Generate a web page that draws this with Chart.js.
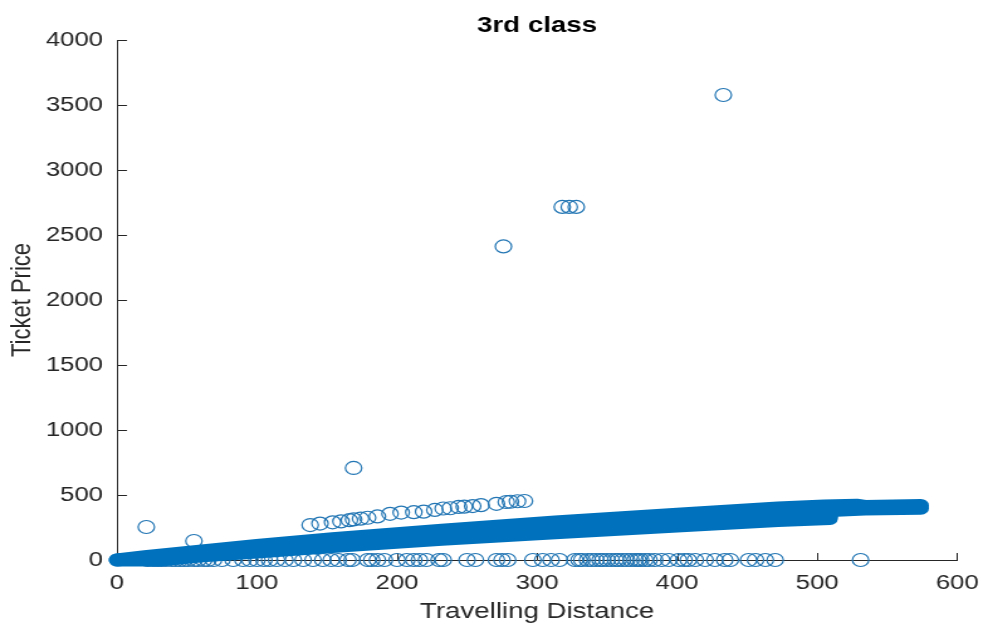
<!DOCTYPE html>
<html>
  <head>
    <meta charset="UTF-8" />
    <title>3rd class</title>
    <script src="https://cdn.jsdelivr.net/npm/chart.js"></script>
    <style>
      body {
        margin: 0;
        background: #ffffff;
        overflow: hidden;
      }

      /* the plot is drawn narrow and widened, like the exported figure */
      #figure {
        width: 790px;
        height: 626px;
        transform: scaleX(1.257);
        transform-origin: 0 0;
      }

      #fareChart {
        display: block;
      }
    </style>
  </head>

  <body>
    <div id="figure">
      <canvas id="fareChart" width="790" height="626"></canvas>
    </div>

    <script>
      // Tick values
      const xTicks = [0, 100, 200, 300, 400, 500, 600];
      const yTicks = [0, 500, 1000, 1500, 2000, 2500, 3000, 3500, 4000];

      // Dense cloud of fares: upper and lower edges of the solid band
      const bandTopDist = [0, 20, 59, 100, 154, 232, 313, 400, 472, 505, 528, 534, 574];
      const bandTopPrice = [0, 25, 68, 112, 163, 230, 292, 352, 400, 415, 422, 412, 419];
      const bandLowDist = [0, 30, 59, 100, 154, 232, 313, 400, 472, 509, 510, 534, 574];
      const bandLowPrice = [0, 0, 30, 62, 104, 160, 210, 262, 304, 320, 381, 392, 398];

      // Tickets sold at zero price
      const freeDist = [
        22, 26, 29, 32, 35, 39, 42, 45, 48, 51, 55, 58, 62, 65, 69, 75, 83, 90,
        95, 100, 105, 109, 114, 120, 126, 133, 140, 147, 153, 158, 165, 168,
        179, 182, 186, 191, 200, 207, 212, 216, 221, 230, 233, 250, 256, 271,
        275, 279, 297, 304, 310, 316, 327, 330, 332, 336, 339, 342, 345, 347,
        350, 353, 356, 358, 361, 364, 367, 370, 372, 374, 377, 380, 384, 389,
        394, 401, 405, 408, 413, 420, 427, 434, 438, 451, 456, 463, 470, 531,
      ];

      // Row of pricier fares just above the band
      const upperDist = [
        138, 145, 154, 160, 166, 169, 174, 179, 186, 195, 203, 212, 219, 227,
        233, 238, 244, 248, 254, 260, 271, 278, 281, 286, 291,
      ];
      const upperPrice = [
        269, 280, 290, 297, 306, 312, 318, 325, 335, 355, 365, 368, 372, 385,
        396, 398, 408, 410, 415, 422, 432, 446, 448, 452, 454,
      ];

      // Isolated outliers
      const outlierDist = [21, 55, 169, 276, 318, 323, 328, 433];
      const outlierPrice = [254, 146, 708, 2412, 2716, 2716, 2716, 3577];

      const blue = "#0072BD";
      const ringColor = "rgb(35,118,180)";
      const axisColor = "#262626";
      const fontFamily = "'Liberation Sans', Arial, Helvetica, sans-serif";

      function toPoints(xs, ys) {
        return xs.map((x, i) => ({ x: x, y: ys[i] }));
      }

      const freePrice = freeDist.map(() => 0);

      // MATLAB style tick marks pointing into the axes
      const inwardTicks = {
        id: "inwardTicks",
        beforeDatasetsDraw(chart) {
          const { ctx, chartArea } = chart;
          const x = chart.scales.x;
          const y = chart.scales.y;
          ctx.save();
          ctx.strokeStyle = axisColor;
          ctx.lineWidth = 1;
          ctx.beginPath();
          x.ticks.forEach((t) => {
            const px = Math.round(x.getPixelForValue(t.value)) + 0.5;
            ctx.moveTo(px, chartArea.bottom);
            ctx.lineTo(px, chartArea.bottom - 7);
          });
          y.ticks.forEach((t) => {
            const py = Math.round(y.getPixelForValue(t.value)) + 0.5;
            ctx.moveTo(chartArea.left, py);
            ctx.lineTo(chartArea.left + 8, py);
          });
          ctx.stroke();
          ctx.restore();
        },
      };

      const ringStyle = {
        type: "scatter",
        showLine: false,
        pointStyle: "circle",
        pointRadius: 6.5,
        pointHoverRadius: 6.5,
        pointBorderWidth: 1.2,
        pointBorderColor: ringColor,
        pointBackgroundColor: "rgba(0,0,0,0)",
        clip: false,
      };

      const plainNumber = (value) => String(value);

      const chart = new Chart(document.getElementById("fareChart"), {
        type: "scatter",
        data: {
          datasets: [
            {
              type: "line",
              label: "band top",
              data: toPoints(bandTopDist, bandTopPrice),
              borderColor: blue,
              borderWidth: 13,
              borderCapStyle: "round",
              borderJoinStyle: "round",
              pointRadius: 0,
              tension: 0,
              fill: false,
              clip: false,
            },
            {
              type: "line",
              label: "band bottom",
              data: toPoints(bandLowDist, bandLowPrice),
              borderColor: blue,
              backgroundColor: blue,
              borderWidth: 13,
              borderCapStyle: "round",
              borderJoinStyle: "round",
              pointRadius: 0,
              tension: 0,
              fill: "-1",
              clip: false,
            },
            Object.assign({ label: "free", data: toPoints(freeDist, freePrice) }, ringStyle),
            Object.assign({ label: "upper", data: toPoints(upperDist, upperPrice) }, ringStyle),
            Object.assign({ label: "outliers", data: toPoints(outlierDist, outlierPrice) }, ringStyle),
          ],
        },
        options: {
          responsive: false,
          animation: false,
          devicePixelRatio: 1,
          layout: {
            padding: { left: 0, right: 21.5, top: 0, bottom: 0 },
          },
          plugins: {
            legend: { display: false },
            tooltip: { enabled: false },
            title: {
              display: true,
              text: "3rd class",
              fullSize: false,
              color: "#000000",
              font: { family: fontFamily, size: 22, weight: "bold" },
              padding: { top: 13, bottom: 0.6 },
            },
          },
          scales: {
            x: {
              type: "linear",
              min: 0,
              max: 600,
              afterBuildTicks: (scale) => {
                scale.ticks = xTicks.map((v) => ({ value: v }));
              },
              afterFit: (scale) => {
                scale.height = 66;
              },
              grid: { display: false, drawTicks: false },
              border: { display: true, color: axisColor, width: 1 },
              ticks: {
                color: axisColor,
                padding: 11.4,
                callback: plainNumber,
                font: { family: fontFamily, size: 20.5 },
              },
              title: {
                display: true,
                text: "Travelling Distance",
                color: axisColor,
                font: { family: fontFamily, size: 22 },
                padding: { top: 0, bottom: 1 },
              },
            },
            y: {
              type: "linear",
              min: 0,
              max: 4000,
              afterBuildTicks: (scale) => {
                scale.ticks = yTicks.map((v) => ({ value: v }));
              },
              afterFit: (scale) => {
                scale.width = 93;
              },
              grid: { display: false, drawTicks: false },
              border: { display: true, color: axisColor, width: 1 },
              ticks: {
                color: axisColor,
                padding: 11,
                callback: plainNumber,
                font: { family: fontFamily, size: 20.5 },
              },
              title: {
                display: true,
                text: "Ticket Price",
                color: axisColor,
                font: { family: fontFamily, size: 22 },
                padding: { top: 4.3, bottom: 0 },
              },
            },
          },
        },
        plugins: [inwardTicks],
      });
    </script>
  </body>
</html>
